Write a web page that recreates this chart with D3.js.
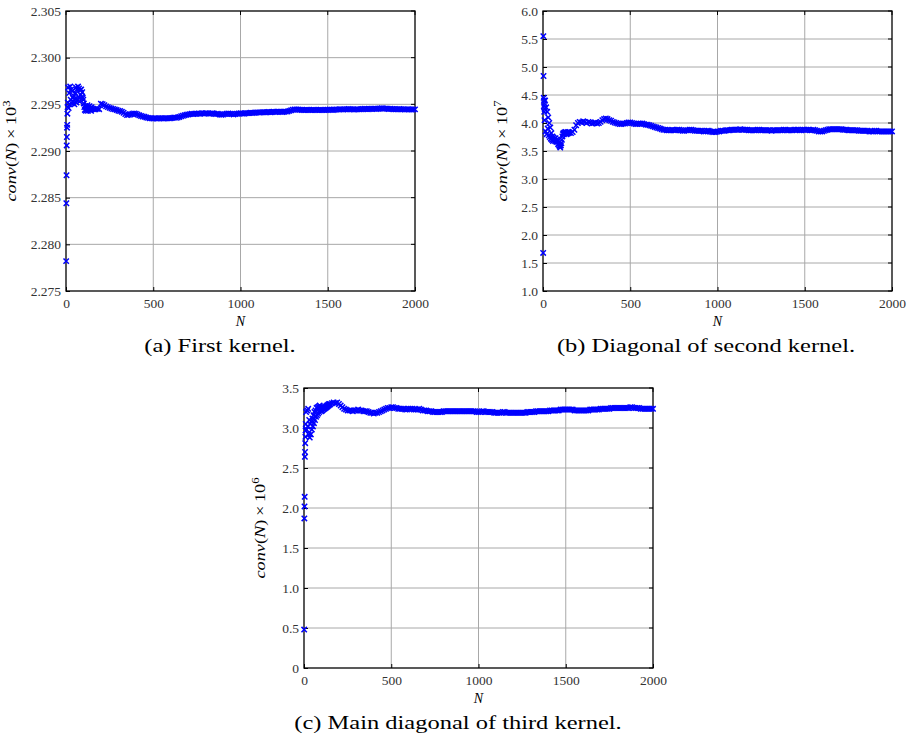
<!DOCTYPE html>
<html><head><meta charset="utf-8">
<script src="https://cdn.jsdelivr.net/npm/d3@7"></script>
<style>body{margin:0;background:#fff} svg{display:block}</style>
</head><body><svg id="c" width="907" height="738"></svg>
<script>
// ---------- sample indices ----------
const nEarly = [1,2,3,4,5,6,7,8,9,10];
const nMid = d3.range(12, 151, 3);     // 12,15,...,150
const nLate = d3.range(160, 2001, 10); // 160,170,...,2000

// ---------- (a) first kernel, conv(N) x 10^3 ----------
const aEarly = [2.2782,2.2844,2.2874,2.2906,2.2915,2.2925,2.2928,2.2940,2.2947,2.2952];
const aMid = [2.2968,2.2946,2.2962,2.2950,2.2969,2.2955,2.2966,2.2951,2.2964,2.2957,
  2.2953,2.2959,2.2950,2.2956,2.2962,2.2968,2.2952,2.2966,2.2955,2.2969,
  2.2958,2.2967,2.2953,2.2965,2.2960,2.2966,2.2958,2.2963,2.2957,2.2955,
  2.2951,2.2947,2.2944,2.2948,2.2943,2.2947,2.2944,2.2949,2.2943,2.2947,
  2.2945,2.2948,2.2944,2.2946,2.2943,2.2947,2.2945];
const aLate = [
  2.29446,2.29448,2.29452,2.29448,2.29506,2.29502,2.29490,2.29478,2.29470,2.29462,
  2.29455,2.29450,2.29446,2.29440,2.29432,2.29428,2.29420,2.29410,2.29395,2.29385,
  2.29388,2.29392,2.29398,2.29402,2.29398,2.29390,2.29382,2.29376,2.29370,2.29366,
  2.29360,2.29355,2.29352,2.29350,2.29348,2.29350,2.29348,2.29350,2.29352,2.29350,
  2.29348,2.29350,2.29352,2.29350,2.29352,2.29355,2.29358,2.29356,2.29360,2.29365,
  2.29372,2.29378,2.29384,2.29388,2.29392,2.29395,2.29398,2.29396,2.29398,2.29400,
  2.29402,2.29400,2.29404,2.29402,2.29405,2.29403,2.29400,2.29402,2.29404,2.29400,
  2.29396,2.29398,2.29392,2.29388,2.29390,2.29395,2.29400,2.29402,2.29398,2.29396,
  2.29392,2.29395,2.29400,2.29402,2.29404,2.29402,2.29400,2.29404,2.29406,2.29408,
  2.29410,2.29408,2.29410,2.29412,2.29414,2.29412,2.29414,2.29416,2.29415,2.29416,
  2.29418,2.29416,2.29418,2.29420,2.29418,2.29420,2.29422,2.29420,2.29418,2.29420,
  2.29422,2.29424,2.29430,2.29436,2.29442,2.29445,2.29446,2.29444,2.29442,2.29440,
  2.29438,2.29440,2.29442,2.29440,2.29438,2.29440,2.29442,2.29440,2.29438,2.29440,
  2.29442,2.29440,2.29438,2.29440,2.29442,2.29444,2.29442,2.29440,2.29442,2.29444,
  2.29446,2.29448,2.29446,2.29444,2.29446,2.29448,2.29450,2.29448,2.29446,2.29444,
  2.29446,2.29448,2.29446,2.29448,2.29450,2.29452,2.29450,2.29448,2.29450,2.29452,
  2.29454,2.29452,2.29450,2.29452,2.29455,2.29458,2.29456,2.29454,2.29452,2.29450,
  2.29452,2.29450,2.29448,2.29446,2.29448,2.29450,2.29448,2.29446,2.29444,2.29446,
  2.29448,2.29446,2.29444,2.29445,2.29446];

// ---------- (b) diagonal of second kernel, conv(N) x 10^7 ----------
const bEarly = [1.68,5.55,4.84,4.45,4.30,4.40,4.20,4.35,4.05,4.25];
const bMid = [4.40,3.85,4.28,3.80,4.20,3.90,4.10,3.78,4.00,3.75,
  3.92,3.72,3.82,3.70,3.76,3.68,3.74,3.70,3.72,3.68,
  3.73,3.67,3.70,3.66,3.68,3.62,3.64,3.60,3.58,3.56,
  3.60,3.64,3.70,3.76,3.80,3.82,3.80,3.83,3.81,3.84,
  3.82,3.80,3.83,3.81,3.84,3.82,3.83];
const bLate = [
  3.82,3.84,3.88,3.96,4.00,4.02,4.01,4.03,4.02,4.00,
  4.02,4.01,3.99,4.00,4.01,3.99,4.00,4.02,4.05,4.07,
  4.08,4.07,4.05,4.04,4.02,4.01,4.00,3.99,3.98,3.98,
  3.99,3.99,4.00,4.01,4.01,4.00,3.99,3.98,3.98,3.99,
  3.99,3.99,3.98,3.97,3.97,3.96,3.95,3.94,3.93,3.92,
  3.91,3.90,3.89,3.88,3.88,3.87,3.87,3.87,3.88,3.87,
  3.87,3.88,3.88,3.87,3.86,3.86,3.87,3.87,3.88,3.88,
  3.87,3.86,3.86,3.86,3.86,3.86,3.85,3.85,3.86,3.86,
  3.85,3.84,3.84,3.84,3.85,3.85,3.86,3.86,3.86,3.87,
  3.87,3.87,3.88,3.88,3.88,3.88,3.88,3.89,3.88,3.88,
  3.88,3.88,3.87,3.87,3.87,3.87,3.87,3.88,3.88,3.87,
  3.87,3.87,3.87,3.87,3.87,3.86,3.87,3.87,3.87,3.87,
  3.87,3.87,3.88,3.88,3.87,3.87,3.87,3.87,3.88,3.88,
  3.88,3.87,3.87,3.88,3.88,3.88,3.88,3.87,3.87,3.88,
  3.87,3.86,3.85,3.85,3.85,3.86,3.87,3.88,3.89,3.89,
  3.89,3.89,3.89,3.89,3.89,3.89,3.88,3.88,3.88,3.87,
  3.87,3.87,3.87,3.87,3.87,3.86,3.86,3.86,3.86,3.86,
  3.86,3.85,3.85,3.85,3.86,3.86,3.85,3.85,3.85,3.85,
  3.85,3.85,3.85,3.85,3.85];

// ---------- (c) main diagonal of third kernel, conv(N) x 10^6 ----------
const cEarly = [0.48,1.87,2.02,2.14,2.64,2.70,2.81,2.89,2.97,3.05];
const cMid = [3.20,2.98,3.22,3.02,3.24,2.92,3.10,2.88,3.05,2.92,
  3.08,2.98,3.12,3.02,3.16,3.06,3.20,3.10,3.22,3.14,
  3.25,3.16,3.26,3.18,3.27,3.20,3.28,3.22,3.26,3.21,
  3.25,3.22,3.26,3.23,3.25,3.24,3.26,3.25,3.27,3.26,
  3.28,3.27,3.29,3.28,3.30,3.29,3.30];
const cLate = [
  3.31,3.32,3.31,3.32,3.30,3.28,3.26,3.24,3.23,3.22,
  3.22,3.22,3.21,3.22,3.22,3.23,3.22,3.22,3.21,3.21,
  3.21,3.20,3.19,3.19,3.18,3.19,3.19,3.20,3.21,3.22,
  3.23,3.24,3.25,3.25,3.26,3.26,3.25,3.25,3.24,3.24,
  3.24,3.24,3.23,3.23,3.24,3.24,3.24,3.23,3.23,3.23,
  3.24,3.23,3.22,3.22,3.22,3.21,3.21,3.21,3.20,3.20,
  3.20,3.20,3.20,3.20,3.21,3.21,3.21,3.21,3.21,3.21,
  3.21,3.21,3.21,3.21,3.21,3.21,3.21,3.21,3.21,3.21,
  3.21,3.21,3.21,3.20,3.20,3.20,3.21,3.21,3.20,3.20,
  3.20,3.20,3.20,3.19,3.19,3.19,3.19,3.19,3.20,3.20,
  3.19,3.19,3.19,3.19,3.19,3.19,3.19,3.19,3.19,3.19,
  3.19,3.19,3.20,3.20,3.20,3.20,3.20,3.21,3.21,3.21,
  3.21,3.21,3.21,3.21,3.21,3.22,3.22,3.22,3.22,3.22,
  3.22,3.23,3.23,3.23,3.23,3.23,3.23,3.23,3.23,3.22,
  3.22,3.22,3.22,3.22,3.22,3.22,3.22,3.22,3.23,3.23,
  3.23,3.23,3.23,3.23,3.24,3.24,3.24,3.24,3.24,3.24,
  3.25,3.25,3.25,3.25,3.25,3.25,3.25,3.25,3.25,3.25,
  3.25,3.26,3.26,3.25,3.25,3.25,3.25,3.24,3.24,3.24,
  3.24,3.24,3.24,3.24,3.24];

// ---------- tick labels ----------
const xTicks = [0, 500, 1000, 1500, 2000];
const yTicksA = [2.275, 2.280, 2.285, 2.290, 2.295, 2.300, 2.305];
const yLabelsA = ["2.275","2.280","2.285","2.290","2.295","2.300","2.305"];
const yTicksB = [1.0,1.5,2.0,2.5,3.0,3.5,4.0,4.5,5.0,5.5,6.0];
const yLabelsB = ["1.0","1.5","2.0","2.5","3.0","3.5","4.0","4.5","5.0","5.5","6.0"];
const yTicksC = [0,0.5,1.0,1.5,2.0,2.5,3.0,3.5];
const yLabelsC = ["0","0.5","1.0","1.5","2.0","2.5","3.0","3.5"];
const captions = ["(a) First kernel.", "(b) Diagonal of second kernel.", "(c) Main diagonal of third kernel."];
const exponents = ["3", "7", "6"];

function series(e, m, l) {
  return nEarly.map((n,i)=>({n, v:e[i]}))
    .concat(nMid.map((n,i)=>({n, v:m[i]})))
    .concat(nLate.map((n,i)=>({n, v:l[i]})));
}

const panels = [
  {data: series(aEarly,aMid,aLate), ticks:yTicksA, labels:yLabelsA, cap:captions[0], exp:exponents[0],
   L:66, R:415, T:11, B:291, ylabX:16, capX:220},
  {data: series(bEarly,bMid,bLate), ticks:yTicksB, labels:yLabelsB, cap:captions[1], exp:exponents[1],
   L:543, R:892, T:11, B:291, ylabX:507, capX:706},
  {data: series(cEarly,cMid,cLate), ticks:yTicksC, labels:yLabelsC, cap:captions[2], exp:exponents[2],
   L:304, R:653, T:388, B:668, ylabX:265, capX:458},
];

const svg = d3.select("#c");
const FONT = "'Liberation Serif','DejaVu Serif',serif";
const r = 2.7;

panels.forEach(p => {
  const x = d3.scaleLinear().domain([0, 2000]).range([p.L, p.R]);
  const y = d3.scaleLinear().domain([p.ticks[0], p.ticks[p.ticks.length-1]]).range([p.B, p.T]);
  const g = svg.append("g");

  // grid
  g.append("g").selectAll("line").data(xTicks.slice(1, -1)).join("line")
    .attr("x1", d=>x(d)).attr("x2", d=>x(d)).attr("y1", p.T).attr("y2", p.B)
    .attr("stroke", "#a8a8a8").attr("stroke-width", 1);
  g.append("g").selectAll("line").data(p.ticks.slice(1, -1)).join("line")
    .attr("x1", p.L).attr("x2", p.R).attr("y1", d=>y(d)).attr("y2", d=>y(d))
    .attr("stroke", "#a8a8a8").attr("stroke-width", 1);

  // axes via d3
  const ax = g.append("g").attr("transform", `translate(0,${p.B})`)
    .call(d3.axisBottom(x).tickValues(xTicks).tickSize(-4).tickPadding(7).tickFormat(d3.format("d")));
  const ay = g.append("g").attr("transform", `translate(${p.L},0)`)
    .call(d3.axisLeft(y).tickValues(p.ticks).tickSize(-4).tickPadding(5).tickFormat((d,i)=>p.labels[i]));
  [ax, ay].forEach(a => {
    a.select(".domain").remove();
    a.selectAll("line").attr("stroke", "#000");
    a.selectAll("text").attr("font-family", FONT).attr("font-size", 13.5).attr("fill", "#333");
  });
  // top/right ticks
  g.append("g").selectAll("line").data(xTicks).join("line")
    .attr("x1", d=>x(d)).attr("x2", d=>x(d)).attr("y1", p.T).attr("y2", p.T+4).attr("stroke", "#000");
  g.append("g").selectAll("line").data(p.ticks).join("line")
    .attr("x1", p.R-4).attr("x2", p.R).attr("y1", d=>y(d)).attr("y2", d=>y(d)).attr("stroke", "#000");

  // frame
  g.append("rect").attr("x", p.L).attr("y", p.T).attr("width", p.R-p.L).attr("height", p.B-p.T)
    .attr("fill", "none").attr("stroke", "#000").attr("stroke-width", 1.3);

  // markers
  g.append("g").selectAll("path").data(p.data).join("path")
    .attr("transform", d=>`translate(${x(d.n)},${y(d.v)})`)
    .attr("d", `M${-r},${-r}L${r},${r}M${-r},${r}L${r},${-r}`)
    .attr("stroke", "#0000ff").attr("stroke-width", 1.5).attr("fill", "none");

  // x label
  g.append("text").attr("x", (p.L+p.R)/2).attr("y", p.B+35).attr("text-anchor", "middle")
    .attr("font-family", FONT).attr("font-size", 14).attr("font-style", "italic").text("N");

  // y label
  const yl = g.append("text")
    .attr("transform", `translate(${p.ylabX},${(p.T+p.B)/2}) rotate(-90) scale(1.22,1)`)
    .attr("text-anchor", "middle").attr("font-family", FONT).attr("font-size", 15);
  yl.append("tspan").attr("font-style", "italic").text("conv");
  yl.append("tspan").text("(");
  yl.append("tspan").attr("font-style", "italic").text("N");
  yl.append("tspan").text(")\u2009\u00d7\u200910");
  yl.append("tspan").attr("font-size", 10.5).attr("dy", -6).text(p.exp);

  // caption
  g.append("text").attr("transform", `translate(${p.capX},${p.B+61}) scale(1.36,1)`)
    .attr("text-anchor", "middle")
    .attr("font-family", FONT).attr("font-size", 18).text(p.cap);
});
</script>
</body></html>
